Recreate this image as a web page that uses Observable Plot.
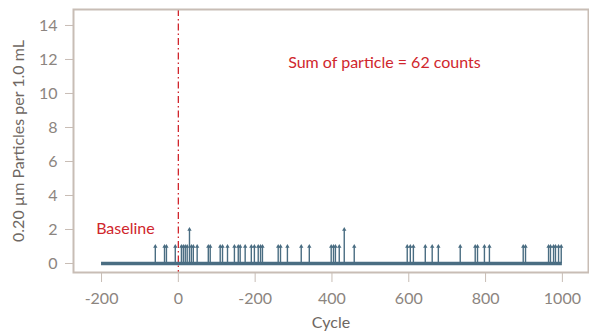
<!DOCTYPE html>
<html>
<head>
<meta charset="utf-8">
<script src="https://cdn.jsdelivr.net/npm/d3@7"></script>
<script src="https://cdn.jsdelivr.net/npm/@observablehq/plot@0.6"></script>
<style>
  html, body { margin: 0; padding: 0; background: #fff; }
  #chart svg { display: block; }
</style>
</head>
<body>
<div id="chart"></div>
<script>
// Cycles at which particles were counted, and the count at each
const cycles = [-60, -36, -31, -8, 8, 13, 18, 23, 29, 34, 39, 49, 78, 83, 109, 115, 128, 146, 156, 161, 174,
  190, 198, 208, 214, 219, 260, 266, 284, 320, 341, 398, 404, 409, 419, 432, 458,
  596, 604, 612, 643, 661, 677, 734, 773, 779, 797, 810, 898, 904, 964, 969, 977, 982, 990, 997];
const counts = [1, 1, 1, 1, 1, 1, 1, 1, 2, 1, 1, 1, 1, 1, 1, 1, 1, 1, 1, 1, 1,
  1, 1, 1, 1, 1, 1, 1, 1, 1, 1, 1, 1, 1, 1, 2, 1,
  1, 1, 1, 1, 1, 1, 1, 1, 1, 1, 1, 1, 1, 1, 1, 1, 1, 1, 1];
const baselineRange = [-200, 1000];
const xTicks = [-200, 0, 200, 400, 600, 800, 1000];
const xTickLabels = ["-200", "0", "-200", "400", "600", "800", "1000"];
const yTicks = [0, 2, 4, 6, 8, 10, 12, 14];
const startCycle = [0];
const annotations = ["Sum of particle = 62 counts", "Baseline"];
const annotX = [286, -214];
const annotY = [11.8, 2.06];

const stems = cycles.map((c, i) => ({cycle: c, count: counts[i]}));
const notes = annotations.map((t, i) => ({text: t, x: annotX[i], y: annotY[i]}));

const steel = "#4a6d82";
const red = "#d0262d";
const frameCol = "#c8bdb5";
const tickText = "#8c8580";

const chart = Plot.plot({
  width: 589,
  height: 332,
  marginLeft: 73,
  marginTop: 9,
  marginRight: 1,
  marginBottom: 60,
  style: {fontFamily: "Lato, 'Open Sans', sans-serif", fontSize: "16px", background: "#fff"},
  x: {domain: [-273, 1068]},
  y: {domain: [-0.53, 14.94]},
  marks: [
    Plot.ruleX(startCycle, {x: d => d, stroke: red, strokeWidth: 1.3, strokeDasharray: "7,3,1.5,3"}),
    Plot.ruleY([0], {x1: baselineRange[0], x2: baselineRange[1], stroke: steel, strokeWidth: 3.5}),
    Plot.ruleX(stems, {x: "cycle", y1: 0, y2: "count", stroke: steel, strokeWidth: 1.4}),
    Plot.dot(stems, {x: "cycle", y: "count", symbol: "triangle", r: 1.6, fill: steel, stroke: "none"}),
    Plot.text(notes, {x: "x", y: "y", text: "text", fill: red, fontSize: 16, textAnchor: "start"}),
    Plot.frame({stroke: frameCol, strokeWidth: 2}),
    Plot.axisX({ticks: xTicks, tickFormat: d => xTickLabels[xTicks.indexOf(d)], tickSize: 10, tickPadding: 10,
      stroke: frameCol, color: tickText, fontSize: 16, label: null}),
    Plot.axisY({ticks: yTicks, tickSize: 8, tickPadding: 8, stroke: frameCol, color: tickText, fontSize: 16, label: null}),
    Plot.text(["Cycle"], {frameAnchor: "bottom", dy: 50, lineAnchor: "middle", fill: "#6e6762", fontSize: 16}),
    Plot.text(["0.20 µm Particles per 1.0 mL"], {frameAnchor: "left", dx: -55, rotate: -90, textAnchor: "middle", fill: "#6e6762", fontSize: 16})
  ]
});
document.getElementById("chart").appendChild(chart);
</script>
</body>
</html>
